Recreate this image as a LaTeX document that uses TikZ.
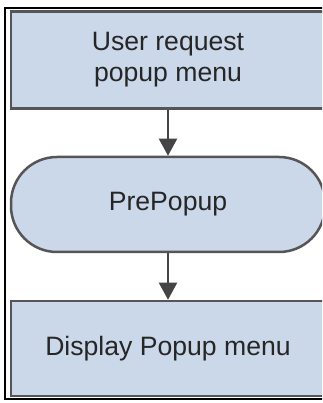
\documentclass[tikz,border=0pt]{standalone}
\usepackage{fontspec}
\setmainfont{Liberation Sans}
\usetikzlibrary{arrows.meta}
\definecolor{boxfill}{RGB}{203,216,234}
\definecolor{boxline}{RGB}{85,85,85}
\definecolor{arrowcol}{RGB}{68,68,68}
\tikzset{
  procbox/.style={draw=boxline, line width=2.5pt, fill=boxfill, minimum width=314pt, minimum height=97pt, inner sep=0pt, align=center, font=\fontsize{26.6}{31}\selectfont, text=black!85},
  pillbox/.style={procbox, rounded corners=46pt, minimum height=95pt},
  flowarrow/.style={draw=arrowcol, line width=2pt, -{Triangle[length=17pt, width=18pt]}}
}
\begin{document}
\begin{tikzpicture}[x=1pt,y=1pt]
\useasboundingbox (0,0) rectangle (322,403);
\clip (0,0) rectangle (322,403);
\draw[black, line width=2pt] (4.5,3.5) rectangle (340,395);
\node[procbox] (req) at (168,343) {User request\\popup menu};
\node[pillbox] (pre) at (168,198.5) {PrePopup};
\node[procbox, minimum height=95pt] (disp) at (168,54.5) {Display Popup menu};
\draw[flowarrow] (req) -- (pre);
\draw[flowarrow] (pre) -- (disp);
\end{tikzpicture}
\end{document}
